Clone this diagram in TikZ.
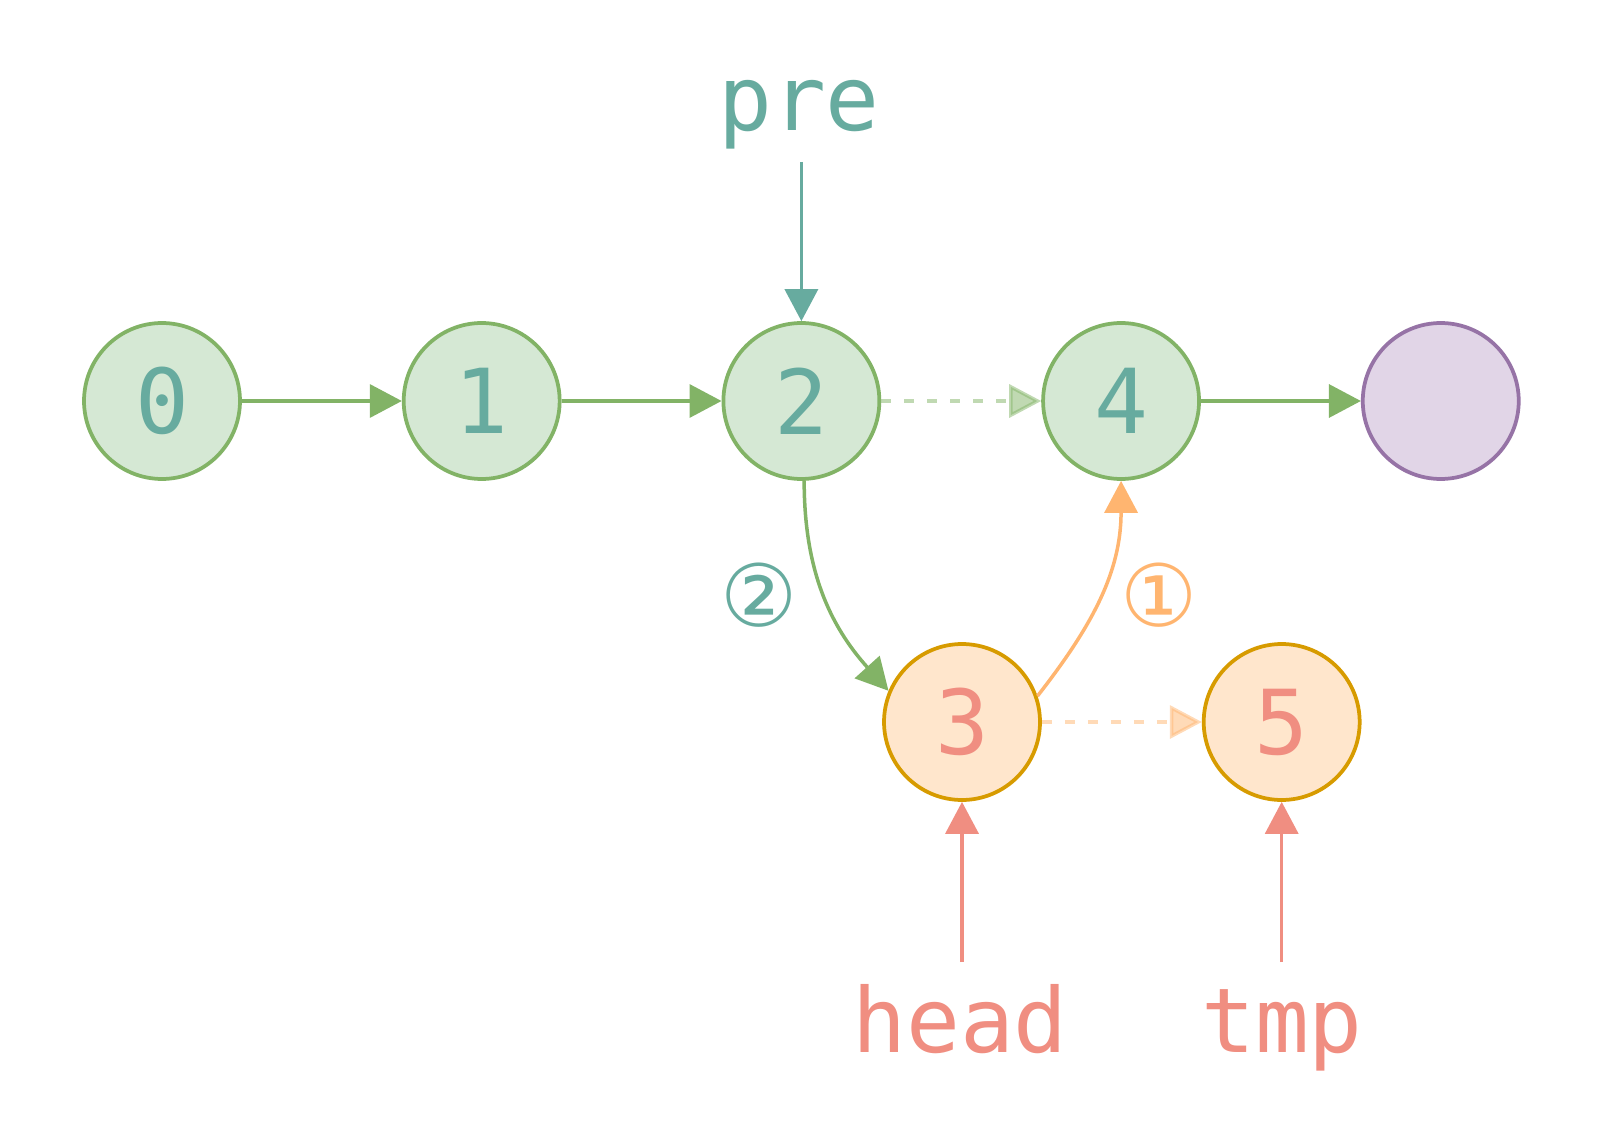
\documentclass[tikz,border=0pt]{standalone}
\usepackage{fontspec}
\setmonofont{DejaVu Sans Mono}
\newfontfamily\circfont{DejaVu Sans}
\usetikzlibrary{
  arrows.meta,
  positioning
}
\definecolor{nodegreen}{HTML}{D5E8D4}
\definecolor{linegreen}{HTML}{82B366}
\definecolor{textgreen}{HTML}{67AB9F}
\definecolor{nodeorange}{HTML}{FFE6CC}
\definecolor{lineorange}{HTML}{D79B00}
\definecolor{arroworange}{HTML}{FFB570}
\definecolor{textred}{HTML}{F08E81}
\definecolor{nodepurple}{HTML}{E1D5E7}
\definecolor{linepurple}{HTML}{9673A6}
\tikzset{
  listnode/.style={
    circle,
    draw,
    line width=0.075cm,
    minimum size=3.12cm,
    inner sep=0pt,
    font=\ttfamily\fontsize{51}{51}\selectfont
  },
  greennode/.style={listnode, fill=nodegreen, draw=linegreen, text=textgreen},
  orangenode/.style={listnode, fill=nodeorange, draw=lineorange, text=textred},
  nullnode/.style={listnode, fill=nodepurple, draw=linepurple},
  link/.style={line width=0.07cm, -{Triangle[length=0.64cm, width=0.66cm]}},
  nextlink/.style={link, linegreen},
  oldlink/.style={opacity=0.5, dash pattern=on 0.2cm off 0.26cm},
  ptrlabel/.style={anchor=base, font=\ttfamily\fontsize{51}{51}\selectfont},
  stepmark/.style={font=\circfont\fontsize{49}{49}\selectfont}
}

\begin{document}
\begin{tikzpicture}[x=0.02cm, y=0.02cm, node distance=3.2cm]
  \useasboundingbox (0,0) rectangle (1604,-1124);
  \node[greennode] (n0) at (162,-401) {0};
  \node[greennode, right=of n0] (n1) {1};
  \node[greennode, right=of n1] (n2) {2};
  \node[greennode, right=of n2] (n4) {4};
  \node[nullnode, right=of n4] (null) {};
  \node[orangenode] (n3) at (962,-722) {3};
  \node[orangenode, right=of n3] (n5) {5};

  \node[ptrlabel, text=textgreen] (pre) at (799,-131) {pre};
  \node[ptrlabel, text=textred] (head) at (960,-1052) {head};
  \node[ptrlabel, text=textred] (tmp) at (1282,-1052) {tmp};
  \coordinate (preTail) at (n2 |- 0,-162);
  \coordinate (headTail) at (n3 |- 0,-962);
  \coordinate (tmpTail) at (n5 |- 0,-962);

  \node[stepmark, text=textgreen] (step2) at (759.5,-595) {②};
  \node[stepmark, text=arroworange] (step1) at (1159,-595) {①};

  \draw[nextlink] (n0) -- (n1);
  \draw[nextlink] (n1) -- (n2);
  \draw[nextlink, oldlink] (n2) -- (n4);
  \draw[nextlink] (n4) -- (null);
  \draw[nextlink] (n2.-88) to[out=-90, in=132] (n3.157);
  \draw[link, arroworange] (n3.19) to[out=52, in=-90] (n4.south);
  \draw[link, arroworange, oldlink] (n3) -- (n5);

  \draw[link, textgreen] (preTail) -- (n2);
  \draw[link, textred] (headTail) -- (n3);
  \draw[link, textred] (tmpTail) -- (n5);
\end{tikzpicture}
\end{document}
